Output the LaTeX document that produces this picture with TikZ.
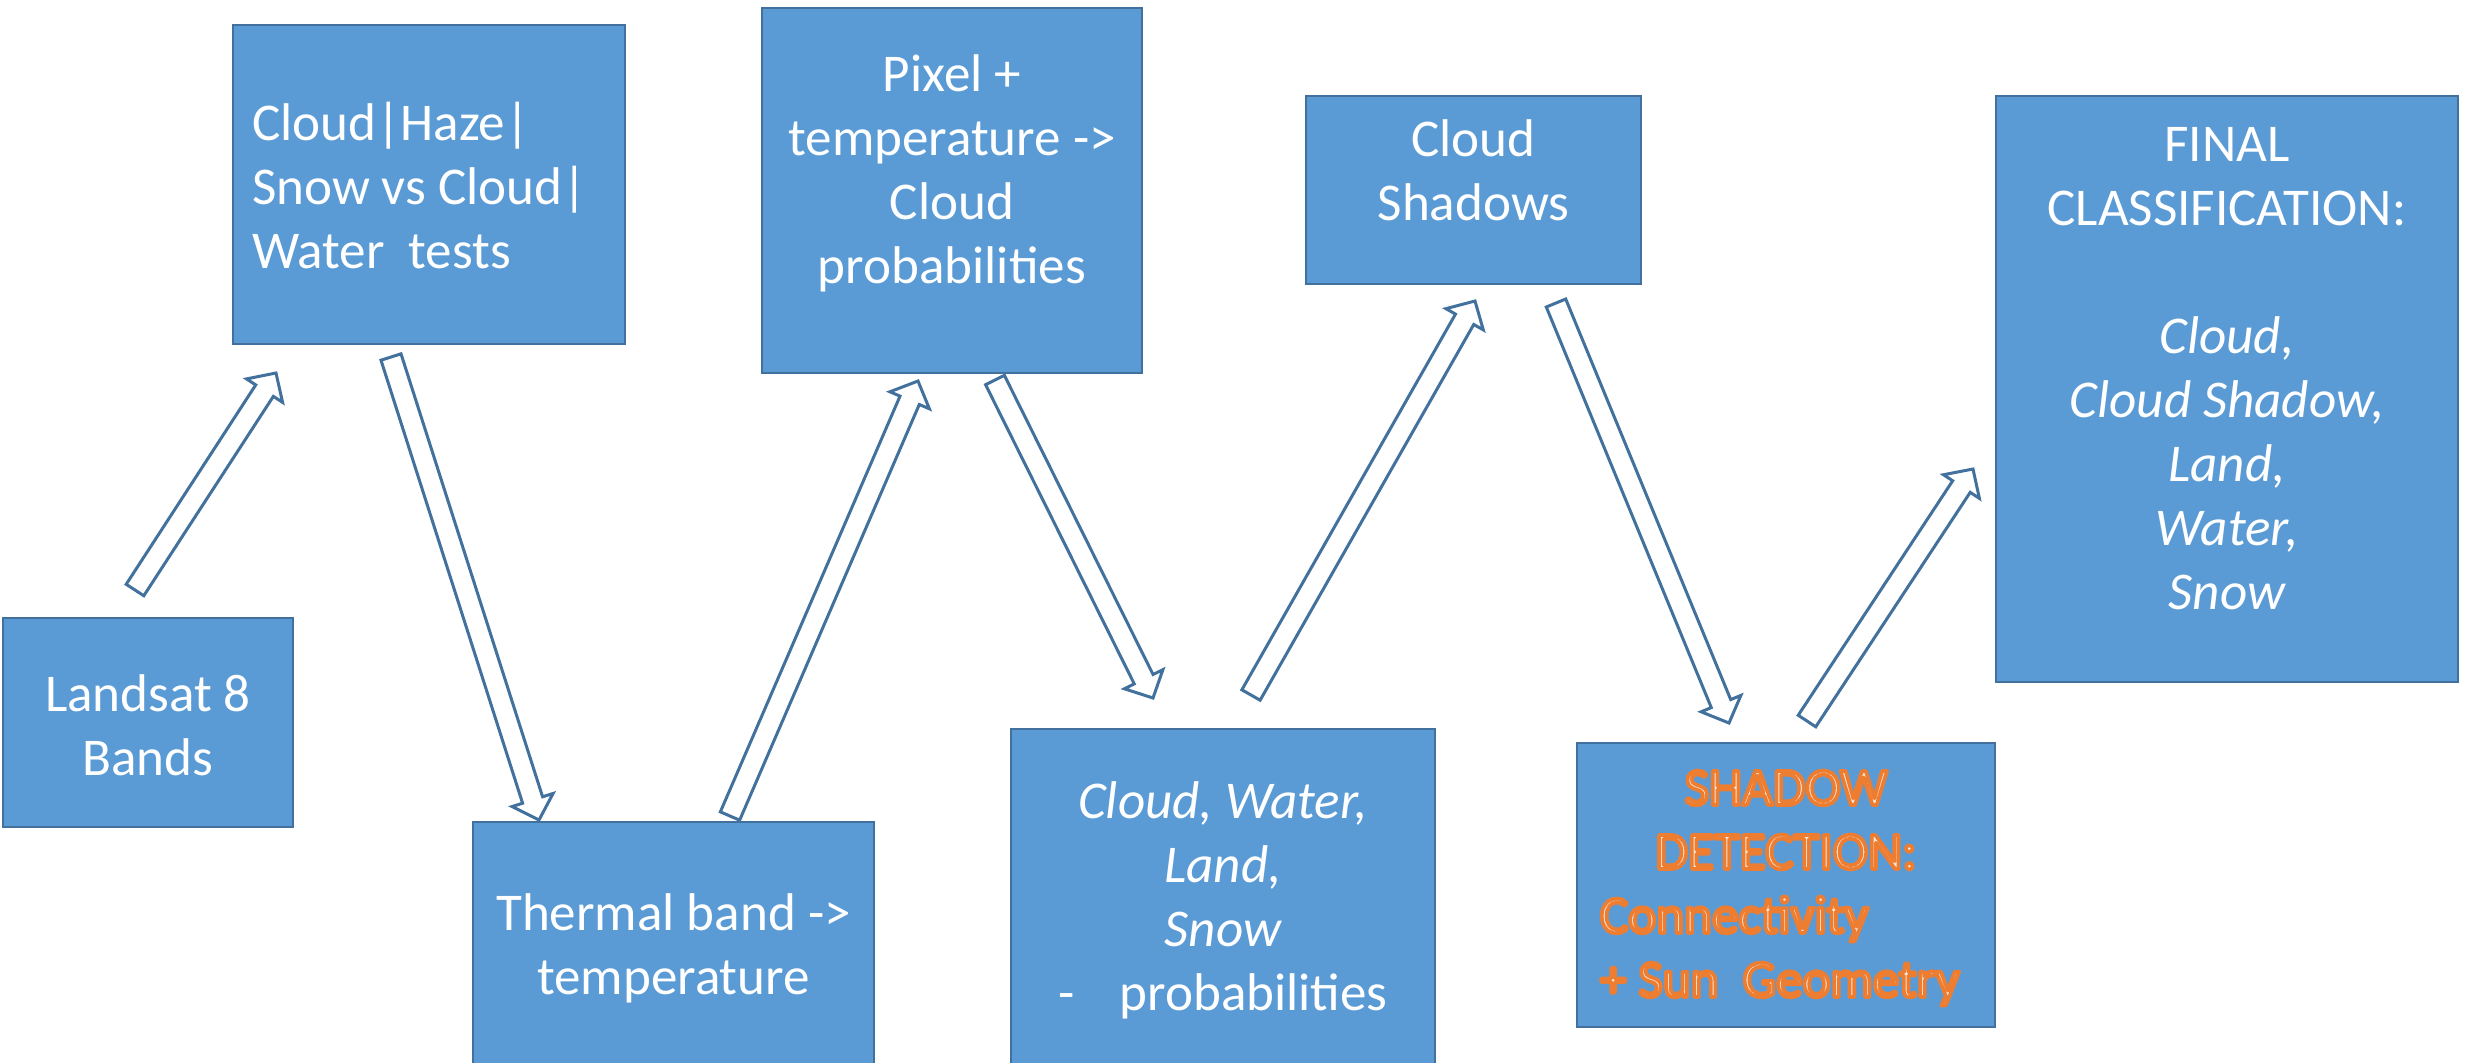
\documentclass[tikz,border=0pt]{standalone}
\usepackage{fontspec}
\setmainfont{Carlito}
\usetikzlibrary{calc}

\definecolor{stagefill}{HTML}{5B9BD5}
\definecolor{stageedge}{HTML}{41719C}
\definecolor{glowcore}{HTML}{FDE6D6}

% stacked lines of text whose baseline is the first line's baseline
\newcommand\lines[2]{\begin{tabular}[t]{@{}#1@{}}#2\end{tabular}}

% hollow block arrow from coordinate #1 (tail) to coordinate #2 (tip)
\newcommand\blockarrow[2]{%
  \path ($(#2)!0.21cm!(#1)$) coordinate (#2-base);
  \draw[barrow]
    ($(#1)!0.105cm!90:(#2)$) --
    ($(#2-base)!0.105cm!90:(#2)$) --
    ($(#2-base)!0.215cm!90:(#2)$) --
    (#2) --
    ($(#2-base)!0.215cm!-90:(#2)$) --
    ($(#2-base)!0.105cm!-90:(#2)$) --
    ($(#1)!0.105cm!-90:(#2)$) -- cycle;
}

% pale letters with an orange outline (fill-and-stroke text mode)
\newcommand\outlined[1]{%
  \special{pdf:code 0.929 0.490 0.192 RG 1.05 w 1 j 2 Tr}#1\special{pdf:code 0 Tr 0.4 w 0 j}}

\begin{document}
\begin{tikzpicture}[x=0.01cm, y=-0.01cm,
  stage/.style={draw=stageedge, line width=0.6pt, fill=stagefill,
    inner sep=0pt, outer sep=0pt},
  txt/.style={text=white, inner sep=0pt, outer sep=0pt, anchor=base,
    font=\fontsize{15.1}{18.2}\selectfont},
  barrow/.style={draw=stageedge, fill=white, line width=0.85pt, line join=miter},
  glowtxt/.style={txt, text=glowcore}]

\useasboundingbox (0,0) rectangle (2474,1062);
\clip (0,0) rectangle (2474,1062);
\fill[white] (0,0) rectangle (2474,1062);

% ---- process boxes
\node[stage, minimum width=2.90cm, minimum height=2.09cm] (landsat)  at (148,722.5) {};
\node[stage, minimum width=3.92cm, minimum height=3.19cm] (tests)    at (429,184.5) {};
\node[stage, minimum width=3.80cm, minimum height=3.65cm] (pixel)    at (952,190.5) {};
\node[stage, minimum width=3.35cm, minimum height=1.88cm] (shadows)  at (1473.5,190) {};
\node[stage, minimum width=4.62cm, minimum height=5.86cm] (final)    at (2227,389) {};
\node[stage, minimum width=4.01cm, minimum height=2.78cm] (thermal)  at (673.5,961) {};
\node[stage, minimum width=4.24cm, minimum height=3.71cm] (probs)    at (1223,914.5) {};
\node[stage, minimum width=4.18cm, minimum height=2.84cm] (detect)   at (1786,885) {};

% ---- box texts
\node[txt] (landsat-t) at (148,711)
  {\lines{c}{Landsat 8\\Bands}};
\node[txt, anchor=base west] (tests-t) at (252,140)
  {\lines{l}{Cloud|Haze|\\Snow vs Cloud|\\Water\ \ tests}};
\node[txt] (pixel-t) at (952,91)
  {\lines{c}{Pixel +\\temperature ->\\Cloud\\probabilities}};
\node[txt] (shadows-t) at (1473.5,156)
  {\lines{c}{Cloud\\Shadows}};
\node[txt] (final-t) at (2227,161)
  {\lines{c}{FINAL\\CLASSIFICATION:\\ \\
   \itshape Cloud,\\\itshape Cloud Shadow,\\\itshape Land,\\\itshape Water,\\\itshape Snow}};
\node[txt] (thermal-t) at (673.5,930)
  {\lines{c}{Thermal band ->\\temperature}};
\node[txt] (probs-t) at (1223,818)
  {\lines{c}{\itshape Cloud, Water,\\\itshape Land,\\\itshape Snow\\-\hspace{0.45cm}probabilities}};

% ---- outlined orange text of the shadow step
\node[glowtxt] (detect-a) at (1786,805) {\outlined{SHADOW}};
\node[glowtxt] (detect-b) at (1786,869) {\outlined{DETECTION:}};
\node[glowtxt, anchor=base west] (detect-c) at (1600,933) {\outlined{Connectivity}};
\node[glowtxt, anchor=base west] (detect-d) at (1600,997) {\outlined{+ Sun\ \ Geometry}};

% ---- arrow ends
\coordinate (a1s) at (135,590);  \coordinate (a1e) at (276,373);
\coordinate (a2s) at (391,357);  \coordinate (a2e) at (539,820);
\coordinate (a3s) at (730,816);  \coordinate (a3e) at (918,381);
\coordinate (a4s) at (995,380);  \coordinate (a4e) at (1153,698);
\coordinate (a5s) at (1251,695); \coordinate (a5e) at (1475,301);
\coordinate (a6s) at (1556,303); \coordinate (a6e) at (1729,723);
\coordinate (a7s) at (1807,721); \coordinate (a7e) at (1973,469);

% ---- flow arrows
\blockarrow{a1s}{a1e}
\blockarrow{a2s}{a2e}
\blockarrow{a3s}{a3e}
\blockarrow{a4s}{a4e}
\blockarrow{a5s}{a5e}
\blockarrow{a6s}{a6e}
\blockarrow{a7s}{a7e}
\end{tikzpicture}
\end{document}
